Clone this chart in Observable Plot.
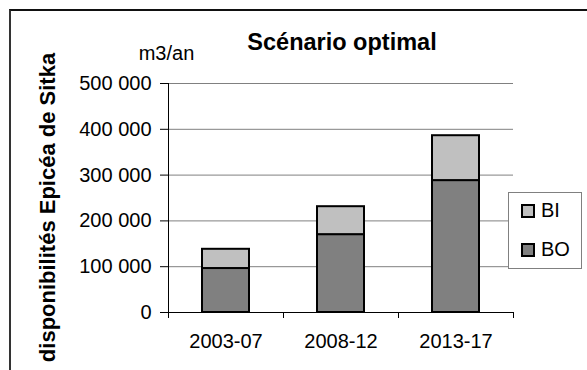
<!DOCTYPE html>
<html>
<head>
<meta charset="utf-8">
<script src="https://cdn.jsdelivr.net/npm/d3@7"></script>
<script src="https://cdn.jsdelivr.net/npm/@observablehq/plot@0.6"></script>
<style>
  html, body { margin: 0; padding: 0; background: #fff; overflow: hidden; }
  #wrap { position: relative; width: 587px; height: 370px; overflow: hidden; font-family: "Liberation Sans", Arial, sans-serif; }
  #chart { position: absolute; left: 0; top: 0; z-index: 1; }
  #chart svg { display: block; }
  #border { position: absolute; left: 9px; top: 9px; width: 700px; height: 500px; border-left: 2px solid #333; border-top: 2px solid #111; pointer-events: none; z-index: 5; }
  #legend { position: absolute; left: 508px; top: 192px; width: 74px; height: 77px; background: #fff; border: 1px solid #808080; box-sizing: border-box; z-index: 6; }
  .item { position: absolute; left: 12px; display: flex; align-items: center; font-size: 20px; color: #000; }
  .sw { width: 10px; height: 10px; border: 2px solid #000; margin-right: 6px; }
</style>
</head>
<body>
<div id="wrap">
  <div id="chart"></div>
  <div id="border"></div>
  <div id="legend"></div>
</div>
<script>
// Data
const periods = ["2003-07", "2008-12", "2013-17"];
const seriesNames = ["BO", "BI"];
const valuesBO = [96000, 170000, 288000];
const valuesBI = [42000, 61000, 98000];
const yTicks = [0, 100000, 200000, 300000, 400000, 500000];
const colors = {BI: "#c0c0c0", BO: "#808080"};

const rows = [];
periods.forEach((p, i) => rows.push({period: p, series: "BO", value: valuesBO[i]}));
periods.forEach((p, i) => rows.push({period: p, series: "BI", value: valuesBI[i]}));

const W = 587, H = 370;
const mL = 168, mR = 74, mT = 83, mB = 58;
const half = (W - mL - mR) / periods.length / 2;
const tickLen = 6 / (H - mT - mB) * 500000;

const fmt = d3.formatLocale({decimal: ",", thousands: " ", grouping: [3], currency: ["", ""]}).format(",d");

const chart = Plot.plot({
  width: W, height: H,
  marginLeft: mL, marginRight: mR, marginTop: mT, marginBottom: mB,
  style: {fontFamily: "'Liberation Sans', Arial, sans-serif", fontSize: "20px", color: "#000", background: "#fff", overflow: "visible"},
  x: {domain: periods, paddingInner: 0.59, paddingOuter: 0.295},
  y: {domain: [0, 500000]},
  color: {domain: ["BI", "BO"], range: [colors.BI, colors.BO]},
  marks: [
    Plot.ruleY(yTicks.filter(d => d > 0), {stroke: "#808080", strokeWidth: 1}),
    Plot.barY(rows, {x: "period", y: "value", fill: "series", stroke: "#000", strokeWidth: 2, order: null}),
    Plot.ruleY([0], {stroke: "#000", strokeWidth: 1}),
    Plot.ruleX([periods[0]], {x: d => d, dx: -half, y1: -tickLen, y2: 500000, stroke: "#000"}),
    Plot.ruleX(periods.slice(1), {x: d => d, dx: -half, y1: -tickLen, y2: 0, stroke: "#000"}),
    Plot.ruleX([periods[periods.length - 1]], {x: d => d, dx: half, y1: -tickLen, y2: 0, stroke: "#000"}),
    Plot.axisY({ticks: yTicks, tickSize: 8, tickPadding: 9, tickFormat: fmt, label: null, fontSize: 20}),
    Plot.axisX({tickSize: 0, tickPadding: 21, label: null, fontSize: 20}),
    Plot.text(["Scénario optimal"], {frameAnchor: "top", dx: 1, dy: -34, lineAnchor: "bottom", fontSize: 23.5, fontWeight: "bold"}),
    Plot.text(["m3/an"], {frameAnchor: "top-left", dx: -2, dy: -24, lineAnchor: "bottom", textAnchor: "middle", fontSize: 20}),
    Plot.text(["disponibilités Epicéa de Sitka"], {frameAnchor: "left", dx: -114, dy: 9.5, rotate: -90, textAnchor: "middle", lineAnchor: "bottom", fontSize: 22, fontWeight: "bold"})
  ]
});
document.getElementById("chart").appendChild(chart);

// Legend
const legend = document.getElementById("legend");
["BI", "BO"].forEach((s, i) => {
  const it = document.createElement("div");
  it.className = "item";
  it.style.top = (i === 0 ? 6 : 45) + "px";
  const sw = document.createElement("div");
  sw.className = "sw";
  sw.style.background = colors[s];
  const tx = document.createElement("span");
  tx.textContent = s;
  it.appendChild(sw); it.appendChild(tx);
  legend.appendChild(it);
});
</script>
</body>
</html>
